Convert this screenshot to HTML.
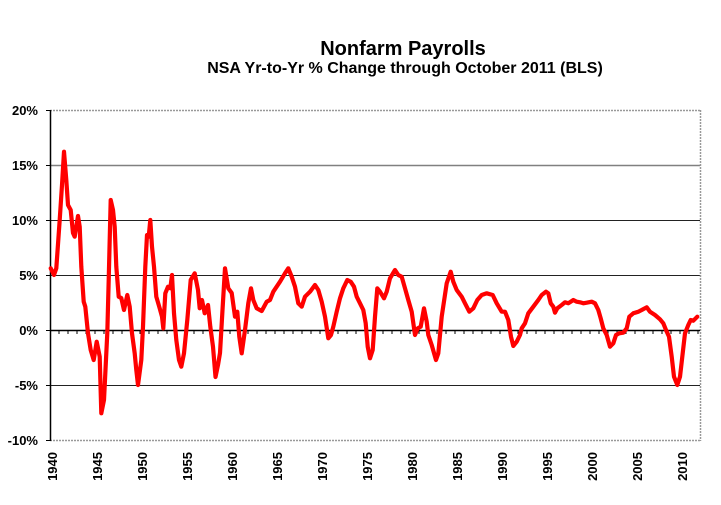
<!DOCTYPE html>
<html><head><meta charset="utf-8"><style>
html,body{margin:0;padding:0;background:#fff;}
svg{display:block;}
text{font-family:"Liberation Sans",Arial,sans-serif;font-weight:bold;fill:#000;}
</style></head><body>
<svg width="721" height="505" viewBox="0 0 721 505" xmlns="http://www.w3.org/2000/svg">
<rect width="721" height="505" fill="#fff"/>
<text x="403" y="55" font-size="20" text-anchor="middle">Nonfarm Payrolls</text>
<text x="405" y="73" font-size="16" text-anchor="middle">NSA Yr-to-Yr % Change through October 2011 (BLS)</text>

<!-- grid -->
<line x1="50" y1="110.5" x2="700" y2="110.5" stroke="#999" stroke-width="1.5" stroke-dasharray="2,1"/>
<line x1="50" y1="165.5" x2="700" y2="165.5" stroke="#808080" stroke-width="1.5"/>
<line x1="50" y1="220.5" x2="700" y2="220.5" stroke="#222" stroke-width="1"/>
<line x1="50" y1="275.5" x2="700" y2="275.5" stroke="#222" stroke-width="1"/>
<line x1="50" y1="385.5" x2="700" y2="385.5" stroke="#222" stroke-width="1"/>
<line x1="50" y1="440.5" x2="700" y2="440.5" stroke="#999" stroke-width="1.5" stroke-dasharray="2,1"/>
<line x1="700.5" y1="110" x2="700.5" y2="441" stroke="#999" stroke-width="1.5" stroke-dasharray="2,1"/>
<line x1="50" y1="330.5" x2="700" y2="330.5" stroke="#000" stroke-width="1.5"/>
<path d="M59,330v4M68,330v4M77,330v4M86,330v4M95,330v4M104,330v4M113,330v4M122,330v4M131,330v4M140,330v4M149,330v4M158,330v4M167,330v4M176,330v4M185,330v4M194,330v4M203,330v4M212,330v4M221,330v4M230,330v4M239,330v4M248,330v4M257,330v4M266,330v4M275,330v4M284,330v4M293,330v4M302,330v4M311,330v4M320,330v4M329,330v4M338,330v4M347,330v4M356,330v4M365,330v4M374,330v4M383,330v4M392,330v4M401,330v4M410,330v4M419,330v4M428,330v4M437,330v4M446,330v4M455,330v4M464,330v4M473,330v4M482,330v4M491,330v4M500,330v4M509,330v4M518,330v4M527,330v4M536,330v4M545,330v4M554,330v4M563,330v4M572,330v4M581,330v4M590,330v4M599,330v4M608,330v4M617,330v4M626,330v4M635,330v4M644,330v4M653,330v4M662,330v4M671,330v4M680,330v4M689,330v4M698,330v4" stroke="#000" stroke-width="1"/>
<!-- left axis -->
<line x1="50.5" y1="110" x2="50.5" y2="441" stroke="#000" stroke-width="1.5"/>
<path d="M46,110.5h5M46,165.5h5M46,220.5h5M46,275.5h5M46,330.5h5M46,385.5h5M46,440.5h5" stroke="#000" stroke-width="1"/>

<!-- y labels -->
<g font-size="13" text-anchor="end">
<text x="38" y="115">20%</text>
<text x="38" y="170">15%</text>
<text x="38" y="225">10%</text>
<text x="38" y="280">5%</text>
<text x="38" y="335">0%</text>
<text x="38" y="390">-5%</text>
<text x="38" y="445">-10%</text>
</g>

<!-- x labels -->
<g font-size="13" text-anchor="end">
<text transform="translate(57,452) rotate(-90)">1940</text>
<text transform="translate(102,452) rotate(-90)">1945</text>
<text transform="translate(147,452) rotate(-90)">1950</text>
<text transform="translate(192,452) rotate(-90)">1955</text>
<text transform="translate(237,452) rotate(-90)">1960</text>
<text transform="translate(282,452) rotate(-90)">1965</text>
<text transform="translate(327,452) rotate(-90)">1970</text>
<text transform="translate(372,452) rotate(-90)">1975</text>
<text transform="translate(417,452) rotate(-90)">1980</text>
<text transform="translate(462,452) rotate(-90)">1985</text>
<text transform="translate(507,452) rotate(-90)">1990</text>
<text transform="translate(552,452) rotate(-90)">1995</text>
<text transform="translate(597,452) rotate(-90)">2000</text>
<text transform="translate(642,452) rotate(-90)">2005</text>
<text transform="translate(687,452) rotate(-90)">2010</text>
</g>

<!-- series -->
<polyline fill="none" stroke="#f00" stroke-width="4.2" stroke-linejoin="round" stroke-linecap="round" points="
50.7,268.3 54,275 56.3,268.3 59.7,220 62,185 64,151.7 66.3,180 68,205 70.7,210 73,233 74.7,236.7 78,216 79.7,226.7 81.3,266.7 83.7,301.7 85.3,306.7 88,333.3 90.7,350 93.7,360 96.7,341.7 99.7,356.7 101.3,413.3 104,400 107.3,333 108.7,280 110.7,200 113,210 114.7,226.7 116.3,266.7 118.7,296.7 121.3,298 124,310 127.3,295 129.7,306.7 132,333.3 134.7,353.3 136.3,370 138,385 141.3,360 143,326.7 145.3,266.7 147,235 148.7,236.7 150.3,220 152,246.7 154,266.7 156.3,296.7 159.7,308.3 162,316.7 163.3,328.3 165.3,293.3 168,286.7 170.3,288.3 172,275 174,313.3 176.3,340 179,360 181.3,366.7 184,353.3 187.3,320 190.7,280 194.7,273.3 198,290 199.7,308.3 202,300 204.7,313.3 208,305 210.3,326.7 213,346.7 215.5,377 218,365 220,353 222.5,310 225,268.3 228.3,288.3 231.7,293 235,316.7 237.3,311.7 239.3,336.7 241.7,353.3 245,330 248.3,303.3 251,288.3 253.3,300 256.7,308.3 261.7,311 266.7,301.7 270,300 273.3,291.7 280,281.7 285,273.3 288.3,268.3 291.7,276.7 295,286.7 298.3,303.3 301.7,306.7 305,296.7 310,291.7 315,285 318.3,290 321.7,301.7 325,316.7 328.3,338.3 331,335 333.3,326.7 336.7,311.7 340,298.3 343.3,288.3 347.3,280 350.7,281.7 354,286.7 356.7,296.7 360,303.3 363.3,310 365.7,323.3 367.7,346.7 370,358.3 372.7,350 375,316.7 377.3,288.3 380,291.7 384,298.3 386.7,291.7 390,278.3 395,270 398.3,275 401.7,276.7 405,288.3 408.3,300 411.7,311.7 415,335 417.7,328.3 420.7,326.7 424,308.3 426.7,321.7 428.3,335 431.7,345 436,360 438.3,353.3 441.7,316.7 446.7,283.3 450.7,271.7 453.3,281.7 456.7,290 461.7,296.7 465,303.3 469.3,311.7 473.3,308.3 477.3,300 481.7,295 486.7,293.3 492.7,295 496.7,303.3 501.7,311.7 505,311.7 508.3,320 511,336.7 513.3,346 516.7,341.7 520,335 521.7,328.3 525,323.3 528.3,313.3 533.3,306.7 538.3,300 541.7,295 546,291.7 548.3,293.3 550.7,303.3 553.3,306.7 555,312.7 557.3,308.3 561.7,305 565,302.3 568.3,303.3 570.7,301.7 573.3,300 576.7,301.7 580,302.3 583.3,303.3 586.7,302.7 591.7,301.7 595,303.3 598.3,310 600.7,318.3 603.3,328.3 606.7,335 610,346.7 613.3,343.3 616,335 619.3,333.3 623.3,332.7 626.7,328.3 629.3,316.7 633.3,313.3 638.3,311.7 641.7,310 646.7,307.3 650,311.7 655,315 660,319.3 663.3,323.3 666,330 669,336.7 671.7,356.7 674,376.7 677.3,385 680,376.7 682.7,353.3 685,333.3 688.3,325 690.7,320 693.3,320.7 697.3,316.7"/>
</svg>
</body></html>
